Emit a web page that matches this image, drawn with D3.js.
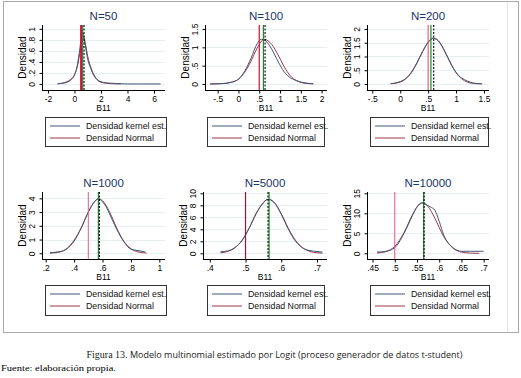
<!DOCTYPE html>
<html><head><meta charset="utf-8">
<script src="https://cdn.jsdelivr.net/npm/d3@7"></script>
<style>html,body{margin:0;padding:0;background:#fff}svg{display:block}</style>
</head><body>
<script>
// ---------- DATA ----------
const titles = ["N=50","N=100","N=200","N=1000","N=5000","N=10000"];
const xTicks = [[-2,0,2,4,6],[-0.5,0,0.5,1,1.5,2],[-0.5,0,0.5,1,1.5],[0.2,0.4,0.6,0.8,1],[0.4,0.5,0.6,0.7],[0.45,0.5,0.55,0.6,0.65,0.7]];
const yTicks = [[0,0.2,0.4,0.6,0.8,1],[0,0.5,1,1.5],[0,0.5,1,1.5,2],[0,1,2,3,4],[0,2,4,6,8,10],[0,5,10,15]];
const legendLabels = ["Densidad kernel est.","Densidad Normal"];
const trueValue = [0.5,0.5,0.5,0.5,0.5,0.5];
const meanEst   = [0.62,0.6,0.55,0.571,0.566,0.565];
const medianEst = [0.72,0.64,0.6,0.578,0.563,0.566];

const kernelX50 = [-1.3,-1.0,-0.7,-0.4,-0.2,0,0.2,0.35,0.5,0.6,0.7,0.8,0.9,1.0,1.2,1.4,1.7,2.0,2.4,3.0,4.0,5.0,6.5];
const kernelY50 = [0,0.01,0.02,0.05,0.09,0.16,0.32,0.55,0.8,0.93,0.88,0.72,0.58,0.45,0.3,0.18,0.08,0.04,0.02,0.01,0,0,0];
const normalX50 = [-1.2,-0.8,-0.5,-0.2,0,0.2,0.4,0.55,0.7,0.85,1.0,1.2,1.4,1.7,2.0,2.5,3.0,3.5];
const normalY50 = [0.005,0.02,0.05,0.1,0.17,0.3,0.55,0.75,0.84,0.7,0.5,0.33,0.2,0.08,0.03,0.01,0.002,0];

const kernelX100 = [-0.68,-0.4,-0.2,0,0.15,0.3,0.45,0.55,0.65,0.8,0.95,1.1,1.25,1.4,1.6,1.8];
const kernelY100 = [0,0.01,0.04,0.13,0.35,0.7,1.1,1.22,1.18,0.95,0.62,0.33,0.17,0.09,0.03,0.01];
const normalX100 = [-0.68,-0.4,-0.2,0,0.15,0.3,0.45,0.62,0.8,0.95,1.1,1.25,1.4,1.6,1.8];
const normalY100 = [0,0.01,0.04,0.13,0.32,0.62,0.98,1.22,1.08,0.8,0.47,0.22,0.09,0.02,0.003];

const kernelX200 = [-0.17,0,0.1,0.2,0.3,0.4,0.5,0.58,0.66,0.75,0.85,0.95,1.05,1.15,1.25,1.35,1.46];
const kernelY200 = [0.01,0.09,0.2,0.43,0.78,1.18,1.52,1.67,1.62,1.38,0.98,0.58,0.3,0.16,0.07,0.02,0.01];
const normalX200 = [-0.17,0,0.1,0.2,0.3,0.4,0.5,0.6,0.7,0.8,0.9,1.0,1.1,1.2,1.3,1.46];
const normalY200 = [0.01,0.07,0.19,0.41,0.76,1.17,1.52,1.66,1.52,1.17,0.76,0.41,0.19,0.07,0.024,0.003];

const kernelX1000 = [0.23,0.3,0.35,0.4,0.45,0.5,0.54,0.57,0.6,0.63,0.67,0.7,0.75,0.8,0.85,0.9];
const kernelY1000 = [0.05,0.12,0.35,0.95,1.85,3.0,3.7,3.98,3.75,3.3,2.4,1.75,0.85,0.3,0.2,0.1];
const normalX1000 = [0.23,0.3,0.35,0.4,0.45,0.5,0.55,0.575,0.6,0.65,0.7,0.75,0.8,0.85,0.91];
const normalY1000 = [0.01,0.1,0.33,0.88,1.84,3.0,3.83,3.95,3.83,3.0,1.84,0.88,0.33,0.1,0.02];

const kernelX5000 = [0.43,0.45,0.47,0.49,0.51,0.53,0.55,0.56,0.57,0.58,0.6,0.62,0.64,0.66,0.68,0.7,0.715];
const kernelY5000 = [0.25,0.4,0.95,2.1,4.2,6.7,8.4,9.0,8.9,8.5,6.5,4.0,2.0,0.9,0.45,0.3,0.2];
const normalX5000 = [0.43,0.45,0.47,0.49,0.51,0.53,0.55,0.565,0.58,0.6,0.62,0.64,0.66,0.68,0.7,0.715];
const normalY5000 = [0.09,0.31,0.91,2.15,4.15,6.6,8.5,9.0,8.5,6.6,4.15,2.15,0.91,0.31,0.09,0.03];

const kernelX10000 = [0.46,0.48,0.5,0.52,0.54,0.55,0.56,0.57,0.58,0.59,0.6,0.61,0.63,0.65,0.67,0.7];
const kernelY10000 = [0.3,0.5,1.4,4.8,9.5,11.6,12.6,12.2,11.6,10.8,8.0,4.6,1.5,0.5,0.5,0.5];
const normalX10000 = [0.46,0.48,0.5,0.52,0.54,0.55,0.563,0.575,0.59,0.61,0.63,0.65,0.67,0.69];
const normalY10000 = [0.06,0.41,1.74,5.0,9.7,11.6,12.6,11.7,8.8,4.2,1.37,0.3,0.04,0.0];

const caption1 = "Figura 13.";
const caption2 = " Modelo multinomial estimado por Logit (proceso generador de datos t-student)";
const sourceText = "Fuente: elaboración propia.";

// ---------- LAYOUT ----------
const kernels = [[kernelX50,kernelY50],[kernelX100,kernelY100],[kernelX200,kernelY200],[kernelX1000,kernelY1000],[kernelX5000,kernelY5000],[kernelX10000,kernelY10000]];
const normals = [[normalX50,normalY50],[normalX100,normalY100],[normalX200,normalY200],[normalX1000,normalY1000],[normalX5000,normalY5000],[normalX10000,normalY10000]];
const layout = [
  {px:[42,165], py:[25,90],  xd:[-2.45,6.83], yd:[-0.11,1.07],  lg:[45,117,121,29], rc:"#d0103a", rw:2},
  {px:[205,327],py:[25,90],  xd:[-0.805,2.13],yd:[-0.164,1.61], lg:[207,117,117,29], rc:"#d0103a", rw:1.2},
  {px:[367,489],py:[25,90],  xd:[-0.595,1.59],yd:[-0.218,2.145],lg:[370,117,118,29], rc:"#e0406a", rw:1},
  {px:[42,165], py:[192,259],xd:[0.174,1.04], yd:[-0.415,4.46], lg:[45,285,121,30], rc:"#e06088", rw:1},
  {px:[203,327],py:[192,259],xd:[0.381,0.728],yd:[-0.95,10.22], lg:[207,285,117,30], rc:"#a01038", rw:1.2},
  {px:[367,489],py:[192,259],xd:[0.4375,0.712],yd:[-1.43,15.33],lg:[370,285,119,30], rc:"#ec4f80", rw:1}
];
const KCOL = "#3f5878", NCOL = "#9c3a48";
const fmt = d => String(d).replace(/^(-?)0\./, "$1.");
const SANS = "'Liberation Sans', Arial, sans-serif";

const svg = d3.select("body").append("svg").attr("width",521).attr("height",378);
svg.append("rect").attr("width",521).attr("height",378).attr("fill","#fff");
// outer frame
svg.append("rect").attr("x",3.5).attr("y",1.5).attr("width",515).attr("height",331)
  .attr("fill","none").attr("stroke","#a9a9a9").attr("stroke-width",1);
svg.append("line").attr("x1",507.5).attr("x2",507.5).attr("y1",2).attr("y2",332)
  .attr("stroke","#e2e8ea").attr("stroke-width",1);

layout.forEach((L,i)=>{
  const g = svg.append("g");
  const x = d3.scaleLinear().domain(L.xd).range(L.px);
  const y = d3.scaleLinear().domain(L.yd).range([L.py[1],L.py[0]]);
  // grid
  g.selectAll(".grid").data(yTicks[i]).join("line")
    .attr("x1",L.px[0]).attr("x2",L.px[1])
    .attr("y1",d=>Math.round(y(d))+0.5).attr("y2",d=>Math.round(y(d))+0.5)
    .attr("stroke","#e6eff1").attr("stroke-width",1);
  // axes
  const xa = g.append("g").attr("transform",`translate(0,${L.py[1]+0.5})`)
    .call(d3.axisBottom(x).tickValues(xTicks[i]).tickFormat(fmt).tickSize(3).tickPadding(2));
  xa.select(".domain").attr("d",`M${L.px[0]},0H${L.px[1]}`).attr("stroke","#000");
  xa.selectAll("line").attr("stroke","#000");
  xa.selectAll("text").attr("font-family",SANS).attr("font-size",8.5).attr("fill","#000");
  const ya = g.append("g").attr("transform",`translate(${L.px[0]+0.5},0)`)
    .call(d3.axisLeft(y).tickValues(yTicks[i]).tickFormat(fmt).tickSize(3).tickPadding(2));
  ya.select(".domain").attr("d",`M0,${L.py[0]}V${L.py[1]}`).attr("stroke","#000");
  ya.selectAll("line").attr("stroke","#000");
  ya.selectAll("text").attr("font-family",SANS).attr("font-size",8.5).attr("fill","#000")
    .attr("text-anchor","middle").attr("dy",0).attr("x",0).attr("y",0)
    .attr("transform","translate(-7.5,0) rotate(-90)");
  // axis titles
  g.append("text").attr("x",(L.px[0]+L.px[1])/2).attr("y",L.py[1]+21)
    .attr("text-anchor","middle").attr("font-family",SANS).attr("font-size",8.5).text("B11");
  g.append("text").attr("transform",`translate(${L.px[0]-16},${(L.py[0]+L.py[1])/2}) rotate(-90)`)
    .attr("text-anchor","middle").attr("font-family",SANS).attr("font-size",10).text("Densidad");
  g.append("text").attr("x",(L.px[0]+L.px[1])/2).attr("y",L.py[0]-5)
    .attr("text-anchor","middle").attr("font-family",SANS).attr("font-size",11.5).attr("fill","#1a3566").text(titles[i]);
  // curves
  const line = d3.line().x(d=>x(d[0])).y(d=>y(d[1])).curve(d3.curveMonotoneX);
  const kd = d3.zip(kernels[i][0],kernels[i][1]);
  const nd = d3.zip(normals[i][0],normals[i][1]);
  g.append("path").attr("d",line(nd)).attr("fill","none").attr("stroke",NCOL).attr("stroke-width",1);
  g.append("path").attr("d",line(kd)).attr("fill","none").attr("stroke",KCOL).attr("stroke-width",1);
  // vertical reference lines
  g.append("line").attr("x1",x(trueValue[i])).attr("x2",x(trueValue[i])).attr("y1",L.py[0]).attr("y2",L.py[1])
    .attr("stroke",L.rc).attr("stroke-width",L.rw);
  g.append("line").attr("x1",x(meanEst[i])).attr("x2",x(meanEst[i])).attr("y1",L.py[0]).attr("y2",L.py[1])
    .attr("stroke","#1c8a2c").attr("stroke-width",1.2);
  g.append("line").attr("x1",x(medianEst[i])).attr("x2",x(medianEst[i])).attr("y1",L.py[0]).attr("y2",L.py[1])
    .attr("stroke","#000").attr("stroke-width",1.1).attr("stroke-dasharray","2,1.5");
  // legend
  const [lx,ly,lw,lh] = L.lg;
  const lg = g.append("g");
  lg.append("rect").attr("x",lx+0.5).attr("y",ly+0.5).attr("width",lw).attr("height",lh)
    .attr("fill","#fff").attr("stroke","#333").attr("stroke-width",1);
  [KCOL,NCOL].forEach((c,k)=>{
    const yy = ly + 9 + k*12;
    lg.append("line").attr("x1",lx+5).attr("x2",lx+35).attr("y1",yy).attr("y2",yy).attr("stroke",c).attr("stroke-width",1);
    lg.append("text").attr("x",lx+41).attr("y",yy+3).attr("font-family",SANS).attr("font-size",8.8)
      .attr("fill","#111").text(legendLabels[k]);
  });
});

// caption
const cap = svg.append("text").attr("x",274.5).attr("y",358).attr("text-anchor","middle")
  .attr("font-size",9.5).attr("fill","#222");
cap.append("tspan").attr("font-family","'Liberation Serif', serif").attr("font-size",10).text(caption1);
cap.append("tspan").attr("font-family","'Open Sans', 'DejaVu Sans', sans-serif").attr("font-size",9).text(caption2);
svg.append("text").attr("x",1).attr("y",371).attr("font-family","'Liberation Serif', serif")
  .attr("font-size",8).attr("fill","#000").attr("textLength",115).attr("lengthAdjust","spacingAndGlyphs").text(sourceText);
</script>
</body></html>
